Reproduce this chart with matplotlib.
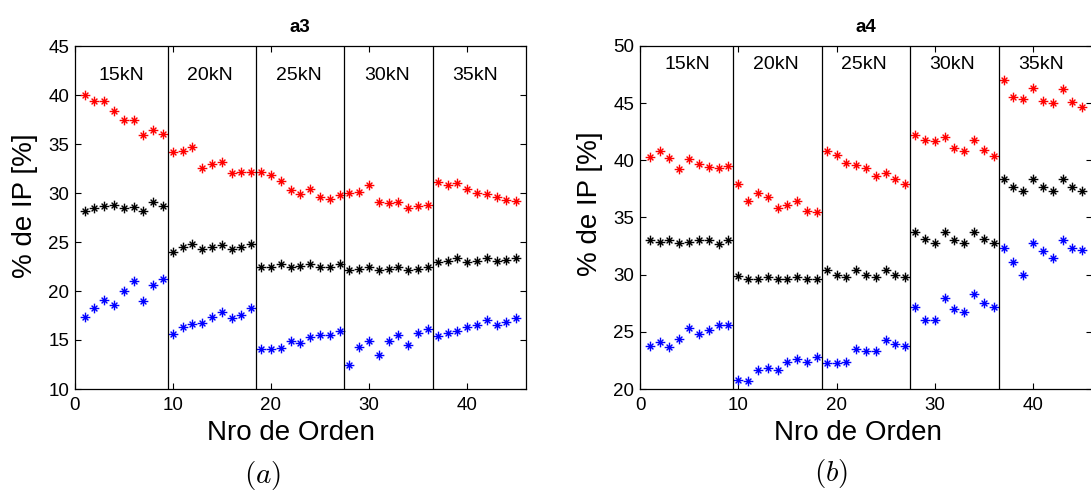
import numpy as np
import matplotlib
matplotlib.use('Agg')
import matplotlib.pyplot as plt
from matplotlib.path import Path

plt.rcParams['font.family'] = ['Liberation Sans', 'DejaVu Sans']
plt.rcParams['mathtext.fontset'] = 'cm'

# order number of each test, 9 tests per load level
nro = np.arange(1, 46)
loads = ['15kN', '20kN', '25kN', '30kN', '35kN']
separators = [9.5, 18.5, 27.5, 36.5]

a3_red = [40.0, 39.4, 39.4, 38.4, 37.5, 37.4, 35.9, 36.4, 36.0,
          34.2, 34.3, 34.7, 32.6, 33.0, 33.2, 32.0, 32.1, 32.1,
          32.1, 31.8, 31.2, 30.3, 29.9, 30.4, 29.6, 29.4, 29.8,
          30.0, 30.1, 30.8, 29.1, 29.0, 29.1, 28.5, 28.7, 28.8,
          31.1, 30.8, 31.0, 30.4, 30.0, 29.9, 29.6, 29.3, 29.2]
a3_black = [28.2, 28.5, 28.7, 28.8, 28.5, 28.6, 28.2, 29.1, 28.7,
            24.0, 24.5, 24.8, 24.3, 24.5, 24.7, 24.3, 24.5, 24.8,
            22.5, 22.5, 22.8, 22.5, 22.6, 22.8, 22.5, 22.5, 22.8,
            22.1, 22.2, 22.5, 22.1, 22.2, 22.5, 22.1, 22.2, 22.5,
            23.0, 23.1, 23.4, 23.0, 23.1, 23.4, 23.1, 23.2, 23.4]
a3_blue = [17.3, 18.3, 19.1, 18.6, 20.0, 21.0, 19.0, 20.6, 21.2,
           15.6, 16.3, 16.6, 16.7, 17.3, 17.9, 17.2, 17.6, 18.3,
           14.1, 14.1, 14.2, 14.9, 14.7, 15.3, 15.5, 15.5, 15.9,
           12.4, 14.3, 14.9, 13.5, 14.9, 15.5, 14.5, 15.7, 16.1,
           15.4, 15.7, 15.9, 16.3, 16.5, 17.0, 16.5, 16.8, 17.2]

a4_red = [40.3, 40.8, 40.2, 39.2, 40.1, 39.7, 39.4, 39.3, 39.5,
          37.9, 36.4, 37.1, 36.8, 35.8, 36.1, 36.4, 35.6, 35.5,
          40.8, 40.5, 39.8, 39.6, 39.3, 38.6, 38.9, 38.4, 37.9,
          42.2, 41.8, 41.7, 42.0, 41.1, 40.8, 41.8, 40.9, 40.4,
          47.0, 45.5, 45.4, 46.3, 45.2, 45.0, 46.2, 45.1, 44.7]
a4_black = [33.0, 32.9, 33.0, 32.8, 32.9, 33.0, 33.0, 32.7, 33.0,
            29.9, 29.6, 29.6, 29.8, 29.6, 29.6, 29.8, 29.6, 29.6,
            30.4, 30.0, 29.8, 30.4, 30.0, 29.8, 30.4, 30.0, 29.8,
            33.7, 33.1, 32.8, 33.7, 33.0, 32.8, 33.7, 33.1, 32.8,
            38.4, 37.7, 37.3, 38.4, 37.7, 37.3, 38.4, 37.7, 37.3]
a4_blue = [23.8, 24.1, 23.7, 24.4, 25.3, 24.8, 25.2, 25.6, 25.6,
           20.8, 20.7, 21.7, 21.8, 21.7, 22.4, 22.6, 22.4, 22.8,
           22.3, 22.3, 22.4, 23.5, 23.3, 23.3, 24.3, 23.9, 23.8,
           27.2, 26.0, 26.0, 28.0, 27.0, 26.7, 28.3, 27.5, 27.2,
           32.3, 31.1, 30.0, 32.8, 32.1, 31.5, 33.0, 32.3, 32.2]

# matlab style '*' marker: plus with shorter diagonals
d = 0.6
star = Path([(-1, 0), (1, 0), (0, -1), (0, 1), (-d, -d), (d, d), (-d, d), (d, -d)],
            [Path.MOVETO, Path.LINETO] * 4)

W, H = 1091, 493
fig = plt.figure(figsize=(W / 100, H / 100), dpi=100)
ax1 = fig.add_axes([74.7 / W, 1 - 389 / H, 451.3 / W, 343 / H])
ax2 = fig.add_axes([640 / W, 1 - 389 / H, 452 / W, 343 / H])


def panel(ax, red, black, blue, ylim, title, label_y):
    for vals, c in ((red, '#ff0000'), (black, 'k'), (blue, '#0000ff')):
        ax.plot(nro, vals, ls='none', marker=star, ms=7, mec=c, mew=1.0)
    for s in separators:
        ax.axvline(s, color='k', lw=0.9)
    for i, name in enumerate(loads):
        ax.text(i * 9 + 4.8, label_y, name, ha='center', va='center', fontsize=14)
    ax.set_xlim(0, 46)
    ax.set_ylim(*ylim)
    ax.set_xticks([0, 10, 20, 30, 40])
    ax.set_yticks(np.arange(ylim[0], ylim[1] + 1, 5))
    ax.tick_params(direction='in', top=True, right=True, length=4, labelsize=13.5)
    ax.tick_params(axis='x', pad=6)
    ax.tick_params(axis='y', pad=4)
    for sp in ax.spines.values():
        sp.set_linewidth(0.9)
    ax.set_title(title, fontsize=13.5, fontweight='bold', pad=10)


panel(ax1, a3_red, a3_black, a3_blue, (10, 45), 'a3', 42)
panel(ax2, a4_red, a4_black, a4_blue, (20, 50), 'a4', 48.4)

fig.text(24.5 / W, 1 - 206 / H, '% de IP [%]', rotation=90, ha='center', va='center', fontsize=20)
fig.text(590 / W, 1 - 204 / H, '% de IP [%]', rotation=90, ha='center', va='center', fontsize=20)
fig.text(291 / W, 1 - 433 / H, 'Nro de Orden', ha='center', va='center', fontsize=20)
fig.text(858 / W, 1 - 433 / H, 'Nro de Orden', ha='center', va='center', fontsize=20)
fig.text(263 / W, 1 - 475 / H, '$(a)$', ha='center', va='center', fontsize=21)
fig.text(831 / W, 1 - 473 / H, '$(b)$', ha='center', va='center', fontsize=21)

fig.savefig('out.png', dpi=100)
